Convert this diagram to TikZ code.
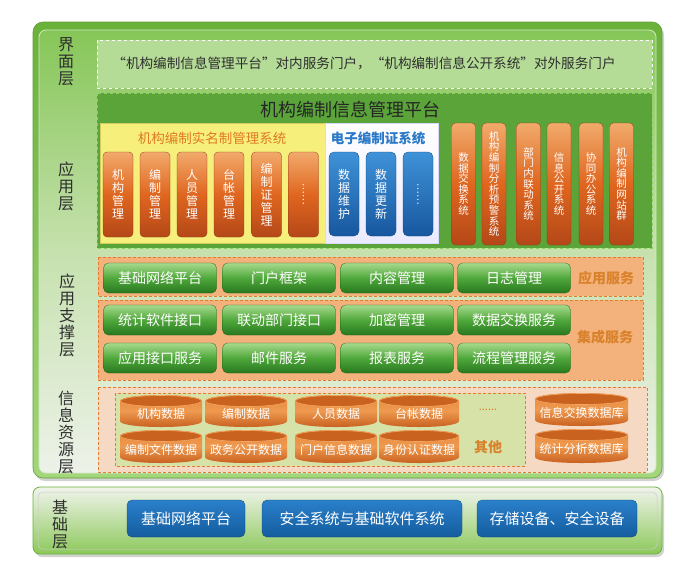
\documentclass[tikz,border=0pt]{standalone}
\usepackage{fontspec}
\setmainfont{Noto Sans CJK SC}
\usetikzlibrary{shadows}
\definecolor{frameA}{HTML}{6AB23A}
\definecolor{frameB}{HTML}{A4D67C}
\definecolor{panelA}{HTML}{86C658}
\definecolor{panelB}{HTML}{C6E1AE}
\definecolor{panelC}{HTML}{EDF2E9}
\definecolor{ifill}{HTML}{B4DC96}
\definecolor{appfill}{HTML}{5AA43A}
\definecolor{appborder}{HTML}{8FD062}
\definecolor{yfill}{HTML}{F6EF7C}
\definecolor{yborder}{HTML}{D2CB5E}
\definecolor{ytitle}{HTML}{E07A22}
\definecolor{btitle}{HTML}{2A78C8}
\definecolor{obarA}{HTML}{F1AA6C}
\definecolor{obarB}{HTML}{E0661F}
\definecolor{obarC}{HTML}{B44818}
\definecolor{bbarA}{HTML}{3F92D8}
\definecolor{bbarC}{HTML}{17579F}
\definecolor{gA}{HTML}{A8DA8E}
\definecolor{gB}{HTML}{4FA83B}
\definecolor{gC}{HTML}{28781F}
\definecolor{sfill}{HTML}{F3B27C}
\definecolor{sborder}{HTML}{E57A33}
\definecolor{stext}{HTML}{D9822B}
\definecolor{rfill}{HTML}{F5D9C2}
\definecolor{rinner}{HTML}{D6E2A8}
\definecolor{drumA}{HTML}{E6873A}
\definecolor{drumB}{HTML}{EE9A50}
\definecolor{drumC}{HTML}{C45A1A}
\definecolor{drumT}{HTML}{C9621E}
\definecolor{drumR}{HTML}{F2A764}
\definecolor{baseA}{HTML}{F0F4EC}
\definecolor{baseB}{HTML}{8CC85A}
\definecolor{blueA}{HTML}{2A80CA}
\definecolor{blueC}{HTML}{145C9E}
\definecolor{labeltext}{HTML}{2E2E2E}
\newcommand\drum[6]{%
  \shade[top color=drumA, bottom color=drumC, middle color=drumB]
    (#2,#3+6) -- (#2,#5-6) .. controls (#2,#5+2) and (#4,#5+2) .. (#4,#5-6)
    -- (#4,#3+6) .. controls (#4,#3-2) and (#2,#3-2) .. (#2,#3+6) -- cycle;
  \filldraw[fill=drumT, draw=drumR, line width=0.6pt] ({(#2+#4)/2},#3+6) ellipse [x radius={(#4-#2)/2-0.5}, y radius=5.5];
  \node[drumtext] (#1) at ({(#2+#4)/2},{(#3+#5)/2+3}) {#6};
}
\begin{document}
\begin{tikzpicture}[x=1pt,y=-1pt,
  layerlabel/.style={align=center, text=labeltext, inner sep=0pt, font=\fontsize{16}{17}\selectfont},
  obar/.style={rounded corners=4pt, top color=obarA, bottom color=obarC, middle color=obarB, draw=obarC!80!black, line width=0.3pt, text=white, align=center, inner sep=0pt, font=\fontsize{12}{13}\selectfont},
  rbar/.style={obar, font=\fontsize{10.5}{10.6}\selectfont},
  bbar/.style={rounded corners=5pt, top color=bbarA, bottom color=bbarC, draw=bbarC!80!black, line width=0.3pt, text=white, align=center, inner sep=0pt, font=\fontsize{12}{13}\selectfont},
  gbtn/.style={rounded corners=5pt, top color=gA, bottom color=gC, middle color=gB, draw=gC!80!black, line width=0.3pt, text=white, inner sep=0pt, minimum width=113pt, minimum height=30pt, font=\fontsize{14}{16}\selectfont},
  drumtext/.style={text=white, inner sep=0pt, font=\fontsize{12}{14}\selectfont},
  basebtn/.style={rounded corners=5pt, top color=blueA, bottom color=blueC, draw=blueC!80!black, line width=0.3pt, text=white, inner sep=0pt, minimum height=37pt, font=\fontsize{15}{17}\selectfont},
  sdash/.style={draw=sborder, dashed, line width=0.8pt, dash pattern=on 3pt off 2pt}
]
\useasboundingbox (0,0) rectangle (700,576);
\fill[white] (0,0) rectangle (700,576);

% ---------- main frame
\path[rounded corners=10pt, top color=frameA, bottom color=frameB, draw=frameA!90!black, line width=0.6pt,
  drop shadow={opacity=0.35, shadow xshift=2pt, shadow yshift=-3pt}] (33,22) rectangle (662,478);
\path[rounded corners=7pt, top color=panelA, bottom color=panelC, middle color=panelB, draw=white!70!frameA, line width=0.8pt] (39,30) rectangle (656,473);

% ---------- layer labels
\node[layerlabel] (L1) at (66,62) {界\\面\\层};
\node[layerlabel] (L2) at (66,186) {应\\用\\层};
\node[layerlabel] (L3) at (67,315) {应\\用\\支\\撑\\层};
\node[layerlabel] (L4) at (66,432) {信\\息\\资\\源\\层};

% ---------- interface layer
\path[fill=ifill, draw=white, dashed, line width=0.8pt] (97,40) rectangle (652,88);
\node[text=labeltext, font=\fontsize{13.6}{15}\selectfont] (itext) at (364,63) {“机构编制信息管理平台”对内服务门户，“机构编制信息公开系统”对外服务门户};

% ---------- application layer
\path[fill=appfill, draw=appborder, dashed, line width=0.8pt] (97,93) rectangle (652,248);
\node[text=black!85, font=\fontsize{18}{20}\selectfont] (apptitle) at (350,110) {机构编制信息管理平台};
\path[fill=yfill, draw=yborder, line width=0.8pt] (100,123) rectangle (325,243);
\path[top color=white, bottom color=blue!8!white, draw=blue!15!white, line width=0.8pt] (325,123) rectangle (438,243);
\node[text=ytitle, font=\fontsize{13.5}{15}\selectfont] (ytitle) at (212,138) {机构编制实名制管理系统};
\node[text=btitle, font=\bfseries\fontsize{13.5}{15}\selectfont] (btitle) at (378,138) {电子编制证系统};

\node[obar, minimum width=30pt, minimum height=85pt] (o1) at (118,194.5) {机\\构\\管\\理};
\node[obar, minimum width=30pt, minimum height=85pt] (o2) at (155,194.5) {编\\制\\管\\理};
\node[obar, minimum width=30pt, minimum height=85pt] (o3) at (192,194.5) {人\\员\\管\\理};
\node[obar, minimum width=30pt, minimum height=85pt] (o4) at (229,194.5) {台\\帐\\管\\理};
\node[obar, minimum width=30pt, minimum height=85pt] (o5) at (266.5,194.5) {编\\制\\证\\管\\理};
\node[obar, minimum width=30pt, minimum height=85pt] (o6) at (303.5,194.5) {};
\node[text=white, rotate=-90, font=\fontsize{10}{12}\selectfont] (o6d) at (o6.center) {……};

\node[bbar, minimum width=30pt, minimum height=84pt] (u1) at (344,194) {数\\据\\维\\护};
\node[bbar, minimum width=30pt, minimum height=84pt] (u2) at (381,194) {数\\据\\更\\新};
\node[bbar, minimum width=30pt, minimum height=84pt] (u3) at (418,194) {};
\node[text=white, rotate=-90, font=\fontsize{10}{12}\selectfont] (u3d) at (u3.center) {……};

\node[rbar, minimum width=24pt, minimum height=122pt] (r1) at (463.5,184) {数\\据\\交\\换\\系\\统};
\node[rbar, minimum width=24pt, minimum height=122pt] (r2) at (494,184) {机\\构\\编\\制\\分\\析\\预\\警\\系\\统};
\node[rbar, minimum width=24pt, minimum height=122pt] (r3) at (528.5,184) {部\\门\\内\\联\\动\\系\\统};
\node[rbar, minimum width=24pt, minimum height=122pt] (r4) at (559,184) {信\\息\\公\\开\\系\\统};
\node[rbar, minimum width=24pt, minimum height=122pt] (r5) at (591,184) {协\\同\\办\\公\\系\\统};
\node[rbar, minimum width=24pt, minimum height=122pt] (r6) at (621.5,184) {机\\构\\编\\制\\网\\站\\群};

% ---------- support layer
\path[fill=sfill, sdash] (98,257) rectangle (643,296);
\path[fill=sfill, sdash] (98,300) rectangle (643,380);
\node[gbtn] (s1) at (160,278) {基础网络平台};
\node[gbtn] (s2) at (279,278) {门户框架};
\node[gbtn] (s3) at (397,278) {内容管理};
\node[gbtn] (s4) at (514,278) {日志管理};
\node[gbtn] (s5) at (160,320) {统计软件接口};
\node[gbtn] (s6) at (279,320) {联动部门接口};
\node[gbtn] (s7) at (397,320) {加密管理};
\node[gbtn] (s8) at (514,320) {数据交换服务};
\node[gbtn] (s9) at (160,358) {应用接口服务};
\node[gbtn] (s10) at (279,358) {邮件服务};
\node[gbtn] (s11) at (397,358) {报表服务};
\node[gbtn] (s12) at (514,358) {流程管理服务};
\node[text=stext, font=\bfseries\fontsize{14}{16}\selectfont] (ss1) at (606,278) {应用服务};
\node[text=stext, font=\bfseries\fontsize{14}{16}\selectfont] (ss2) at (605,337) {集成服务};

% ---------- information resource layer
\path[fill=rfill, sdash] (98,387) rectangle (647,472);
\path[fill=rinner, sdash] (115,393) rectangle (525,466);
\drum{d1}{120}{395}{202}{427}{机构数据}
\drum{d2}{205}{395}{287}{427}{编制数据}
\drum{d3}{295}{395}{377}{427}{人员数据}
\drum{d4}{379}{395}{459}{427}{台帐数据}
\drum{d5}{120}{430}{202}{463}{编制文件数据}
\drum{d6}{205}{430}{287}{463}{政务公开数据}
\drum{d7}{295}{430}{377}{463}{门户信息数据}
\drum{d8}{379}{430}{459}{463}{身份认证数据}
\drum{d9}{535}{393}{628}{426}{信息交换数据库}
\drum{d10}{535}{429}{628}{463}{统计分析数据库}
\node[text=stext, font=\fontsize{11}{12}\selectfont] (dots) at (488,410) {......};
\node[text=stext, font=\bfseries\fontsize{14}{16}\selectfont] (other) at (488,447) {其他};

% ---------- base layer
\path[rounded corners=7pt, top color=baseA, bottom color=baseB, draw=frameA, line width=0.8pt,
  drop shadow={opacity=0.35, shadow xshift=2pt, shadow yshift=-3pt}] (33,487) rectangle (662,554);
\draw[rounded corners=5pt, white!60!gray, line width=0.5pt] (38,492) rectangle (657,549);
\node[layerlabel] (L5) at (60,524) {基\\础\\层};
\node[basebtn, minimum width=118pt] (b1) at (186,518.5) {基础网络平台};
\node[basebtn, minimum width=200pt] (b2) at (362,518.5) {安全系统与基础软件系统};
\node[basebtn, minimum width=160pt] (b3) at (557,518.5) {存储设备、安全设备};
\end{tikzpicture}
\end{document}
